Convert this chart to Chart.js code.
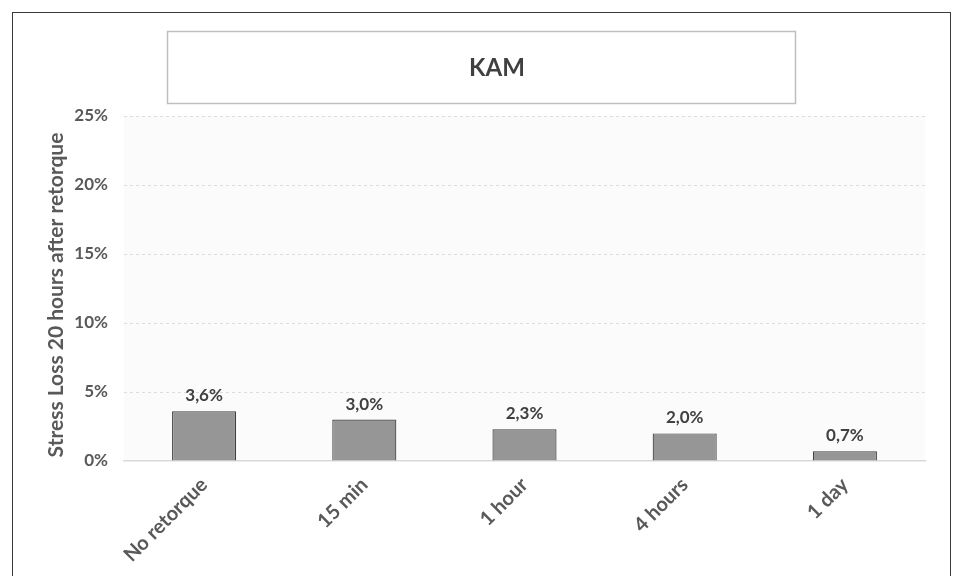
<!DOCTYPE html>
<html>
<head>
<meta charset="utf-8">
<script src="https://cdn.jsdelivr.net/npm/chart.js@4/dist/chart.umd.min.js"></script>
<style>
  html, body { margin: 0; padding: 0; background: #fff; }
  #wrap { position: relative; width: 963px; height: 576px; overflow: hidden; }
  #frame { position: absolute; left: 12px; top: 12px; width: 939px; height: 620px;
           border: 1.5px solid #3a3a3a; box-sizing: border-box; pointer-events: none; }
  canvas { position: absolute; left: 0; top: 0; }
</style>
</head>
<body>
<div id="wrap">
  <canvas id="c" width="963" height="576"></canvas>
  <div id="frame"></div>
</div>
<script>
const chartTitle = 'KAM';
const axisTitle = 'Stress Loss 20 hours after retorque';
const categories = ['No retorque', '15 min', '1 hour', '4 hours', '1 day'];
const stressLoss = [3.6, 3.0, 2.3, 2.0, 0.7];
const yTicks = [0, 5, 10, 15, 20, 25];

const FONT = 'Lato, "Open Sans", sans-serif';
const TEXT = '#595959';

const fmt = v => v.toFixed(1).replace('.', ',') + '%';

// Plot background, title box, axis title and value labels
const decor = {
  id: 'decor',
  beforeDraw(chart) {
    const { ctx, chartArea: a } = chart;
    ctx.save();
    ctx.fillStyle = '#fbfbfb';
    ctx.fillRect(a.left, a.top, a.right - a.left, a.bottom - a.top);
    ctx.restore();
  },
  afterDraw(chart) {
    const { ctx } = chart;
    ctx.save();
    // title box
    ctx.strokeStyle = '#bfbfbf';
    ctx.lineWidth = 1.5;
    ctx.strokeRect(167.5, 31.5, 628, 72);
    ctx.fillStyle = '#404040';
    ctx.font = 'bold 24px ' + FONT;
    ctx.textAlign = 'center';
    ctx.textBaseline = 'middle';
    ctx.fillText(chartTitle, 497, 68);
    // vertical axis title
    ctx.save();
    ctx.translate(56, 295);
    ctx.rotate(-Math.PI / 2);
    ctx.fillStyle = TEXT;
    ctx.font = 'bold 21px ' + FONT;
    ctx.fillText(axisTitle, 0, 0);
    ctx.restore();
    // value labels
    const meta = chart.getDatasetMeta(0);
    ctx.font = 'bold 17px ' + FONT;
    ctx.fillStyle = '#404040';
    ctx.textBaseline = 'bottom';
    meta.data.forEach((bar, i) => {
      ctx.fillText(fmt(stressLoss[i]), bar.x, bar.y - 7);
    });
    ctx.restore();
  }
};

new Chart(document.getElementById('c'), {
  type: 'bar',
  data: {
    labels: categories,
    datasets: [{
      data: stressLoss,
      backgroundColor: '#969696',
      borderColor: '#404040',
      borderWidth: 1.2,
      categoryPercentage: 1,
      barPercentage: 0.4
    }]
  },
  options: {
    responsive: false,
    animation: false,
    events: [],
    layout: { padding: { top: 116, left: 0, right: 38, bottom: 0 } },
    plugins: { legend: { display: false }, tooltip: { enabled: false }, title: { display: false } },
    scales: {
      x: {
        afterFit: s => { s.height = 115; },
        grid: { display: false, drawTicks: false },
        border: { display: true, color: '#d9d9d9', width: 1.5 },
        ticks: {
          color: TEXT, font: { family: FONT, size: 20, weight: 'bold' },
          minRotation: 45, maxRotation: 45, padding: 12
        }
      },
      y: {
        min: 0, max: 25,
        afterFit: s => { s.width = 124; },
        afterBuildTicks: s => { s.ticks = yTicks.map(v => ({ value: v })); },
        grid: {
          color: c => c.tick.value === 0 ? 'rgba(0,0,0,0)' : '#dcdcdc',
          drawTicks: false, lineWidth: 1
        },
        border: { display: false, dash: [3, 3] },
        ticks: {
          color: TEXT, font: { family: FONT, size: 17, weight: 'bold' },
          padding: 16, callback: v => v + '%'
        }
      }
    }
  },
  plugins: [decor]
});
</script>
</body>
</html>
